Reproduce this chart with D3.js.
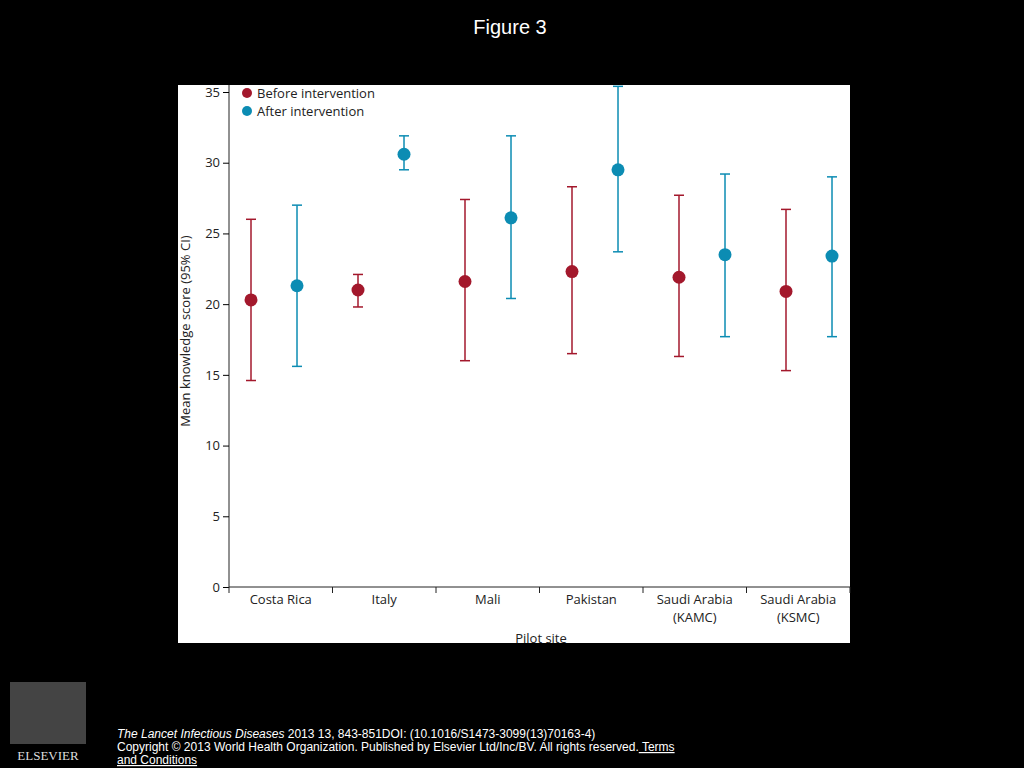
<!DOCTYPE html>
<html><head><meta charset="utf-8">
<script src="https://cdn.jsdelivr.net/npm/d3@7"></script>
<style>body{margin:0;background:#000;}svg{display:block;}</style>
</head><body>
<script>
const categories = ["Costa Rica","Italy","Mali","Pakistan","Saudi Arabia\n(KAMC)","Saudi Arabia\n(KSMC)"];
const beforeMean = [20.3,21.0,21.6,22.3,21.9,20.9];
const beforeLow  = [14.6,19.8,16.0,16.5,16.3,15.3];
const beforeHigh = [26.0,22.1,27.4,28.3,27.7,26.7];
const afterMean  = [21.3,30.6,26.1,29.5,23.5,23.4];
const afterLow   = [15.6,29.5,20.4,23.7,17.7,17.7];
const afterHigh  = [27.0,31.9,31.9,35.4,29.2,29.0];
const yTicks = [0,5,10,15,20,25,30,35];
const series = [
  {name:"Before intervention", mean:beforeMean, lo:beforeLow, hi:beforeHigh, color:"#a3182c", shift:0},
  {name:"After intervention", mean:afterMean, lo:afterLow, hi:afterHigh, color:"#0c8cb3", shift:0.43}
];
const svg = d3.select("body").append("svg").attr("width",1024).attr("height",768);
svg.append("rect").attr("width",1024).attr("height",768).attr("fill","#000");
svg.append("text").attr("x",510).attr("y",34).attr("text-anchor","middle").attr("fill","#fff")
  .attr("font-family","Liberation Sans, Arial").attr("font-size",20).text("Figure 3");
svg.append("rect").attr("x",178).attr("y",85).attr("width",672).attr("height",558).attr("fill","#fff");
const x = d3.scaleBand().domain(categories).range([229,850]);
const xp = d3.scaleLinear().domain([0,5]).range([251,786]);
const y = d3.scaleLinear().domain([0,35]).range([587,92]);
const g = svg.append("g").attr("font-family","Open Sans, Lato, sans-serif");
const ya = g.append("g").attr("transform","translate(229,0)").call(d3.axisLeft(y).tickValues(yTicks).tickSize(6).tickSizeOuter(0));
ya.select(".domain").attr("stroke","#222").attr("d","M0,587V85");
ya.selectAll("text").attr("font-size",13).attr("fill","#222").attr("font-family","Open Sans, sans-serif");
const xa = g.append("g").attr("transform","translate(0,587)");
xa.append("line").attr("x1",229).attr("x2",850).attr("stroke","#222");
categories.forEach((c,i)=>{
  const bx = x(c);
  xa.append("line").attr("x1",bx+x.bandwidth()).attr("x2",bx+x.bandwidth()).attr("y1",0).attr("y2",6).attr("stroke","#222");
  c.split("\n").forEach((t,j)=>xa.append("text").attr("x",bx+x.bandwidth()/2).attr("y",17+j*18)
    .attr("text-anchor","middle").attr("font-size",13).attr("fill","#222").text(t));
});
xa.append("line").attr("x1",229).attr("x2",229).attr("y1",0).attr("y2",6).attr("stroke","#222");
g.append("text").attr("x",541).attr("y",643).attr("text-anchor","middle").attr("font-size",13).attr("fill","#222").text("Pilot site");
g.append("text").attr("transform","translate(190,331) rotate(-90)").attr("text-anchor","middle").attr("font-size",13).attr("fill","#222").text("Mean knowledge score (95% CI)");
series.forEach(s=>{
  categories.forEach((c,i)=>{
    const cx = xp(i+s.shift);
    g.append("line").attr("x1",cx).attr("x2",cx).attr("y1",y(s.lo[i])).attr("y2",y(s.hi[i])).attr("stroke",s.color).attr("stroke-width",1.5);
    [s.lo[i],s.hi[i]].forEach(v=>g.append("line").attr("x1",cx-5).attr("x2",cx+5).attr("y1",y(v)).attr("y2",y(v)).attr("stroke",s.color).attr("stroke-width",1.5));
    g.append("circle").attr("cx",cx).attr("cy",y(s.mean[i])).attr("r",6.5).attr("fill",s.color);
  });
});
series.forEach((s,i)=>{
  g.append("circle").attr("cx",247).attr("cy",93+i*18).attr("r",5).attr("fill",s.color);
  g.append("text").attr("x",257).attr("y",98+i*18).attr("font-size",13).attr("fill","#222").text(s.name);
});
const f = svg.append("g").attr("font-family","Liberation Sans, Arial").attr("font-size",12).attr("fill","#fff");
f.append("text").attr("x",117).attr("y",738).attr("font-style","italic").text("The Lancet Infectious Diseases").append("tspan").attr("font-style","normal").text(" 2013 13, 843-851DOI: (10.1016/S1473-3099(13)70163-4)");
f.append("text").attr("x",117).attr("y",751).text("Copyright © 2013 World Health Organization. Published by Elsevier Ltd/Inc/BV. All rights reserved.")
  .append("tspan").attr("fill","#fff").attr("text-decoration","underline").text(" Terms");
f.append("text").attr("x",117).attr("y",764).attr("text-decoration","underline").text("and Conditions");
svg.append("rect").attr("x",10).attr("y",682).attr("width",76).attr("height",62).attr("fill","#444");
svg.append("text").attr("x",48).attr("y",760).attr("text-anchor","middle").attr("fill","#ddd").attr("font-family","Liberation Serif, serif").attr("font-size",13).text("ELSEVIER");
</script>
</body></html>
